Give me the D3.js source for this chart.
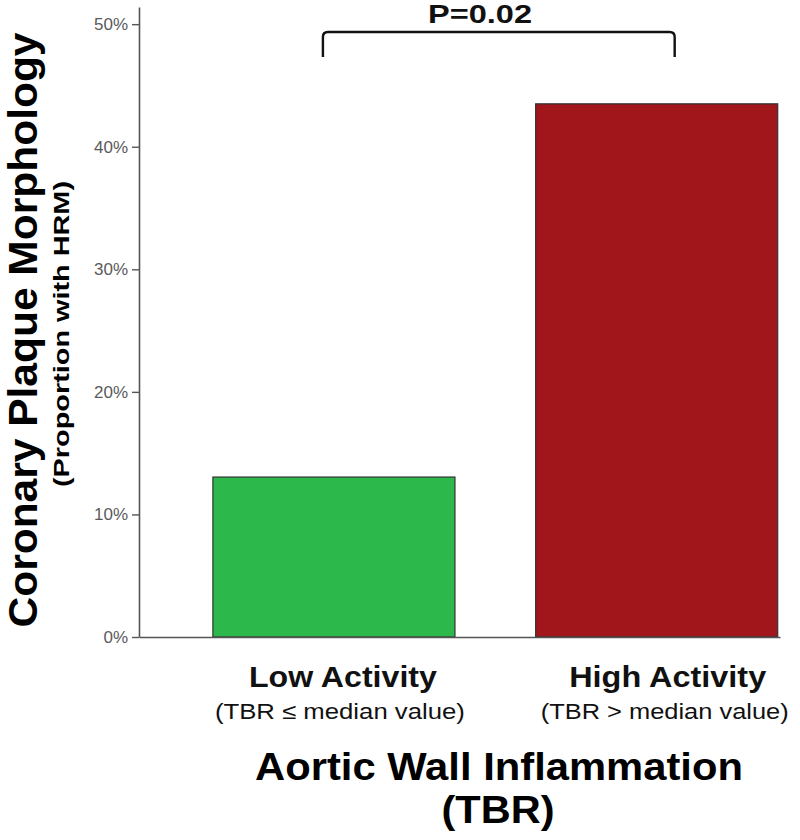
<!DOCTYPE html>
<html>
<head>
<meta charset="utf-8">
<script src="https://cdn.jsdelivr.net/npm/d3@7"></script>
<style>
  body { margin: 0; background: #fff; }
  text { font-family: "Liberation Sans", Arial, sans-serif; }
</style>
</head>
<body>
<svg id="chart" width="800" height="840"></svg>
<script>
const categories = ['Low Activity', 'High Activity'];
const subLabels = ['(TBR \u2264 median value)', '(TBR > median value)'];
const values = [0.1305, 0.435];
const barColors = ['#2db84b', '#a0161b'];
const tickValues = [0, 0.1, 0.2, 0.3, 0.4, 0.5];
const pLabel = 'P=0.02';

const width = 800;
const height = 840;
const margin = { top: 7, right: 20, bottom: 203, left: 139 };

const svg = d3.select('#chart');

const x = d3.scaleBand()
  .domain(categories)
  .range([margin.left, width - margin.right])
  .paddingInner(0.25)
  .paddingOuter(0.118)
  .align(0.97);

const y = d3.scaleLinear()
  .domain([0, 0.514])
  .range([height - margin.bottom, margin.top]);

// bars
svg.selectAll('.bar')
  .data(values)
  .enter().append('rect')
  .attr('class', 'bar')
  .attr('x', (d, i) => x(categories[i]))
  .attr('y', d => y(d))
  .attr('width', x.bandwidth())
  .attr('height', d => y(0) - y(d))
  .attr('fill', (d, i) => barColors[i])
  .attr('stroke', '#333')
  .attr('stroke-width', 1.2);

// y axis
const yAxis = svg.append('g')
  .attr('transform', `translate(${margin.left},0)`)
  .call(d3.axisLeft(y)
    .tickValues(tickValues)
    .tickFormat(d3.format('.0%'))
    .tickSize(7)
    .tickSizeOuter(0)
    .tickPadding(4));
yAxis.select('.domain').attr('stroke', '#555').attr('stroke-width', 1.6);
yAxis.selectAll('.tick line').attr('stroke', '#555').attr('stroke-width', 1.4);
yAxis.selectAll('.tick text')
  .attr('fill', '#5a5a5a')
  .style('font-size', '17px');

// x axis baseline
const xAxis = svg.append('g')
  .attr('transform', `translate(0,${y(0)})`)
  .call(d3.axisBottom(x).tickSize(0).tickSizeOuter(0).tickFormat(''));
xAxis.select('.domain').attr('stroke', '#555').attr('stroke-width', 1.6);

// category labels
const labelOffset = [9, 11];
const labelWidths = [188, 197];
const subWidths = [250, 248];
categories.forEach((c, i) => {
  const cx = x(c) + x.bandwidth() / 2 + labelOffset[i];
  svg.append('text')
    .attr('x', cx)
    .attr('y', 687)
    .attr('text-anchor', 'middle')
    .attr('textLength', labelWidths[i])
    .attr('lengthAdjust', 'spacingAndGlyphs')
    .style('font-size', '29px')
    .style('font-weight', 'bold')
    .attr('fill', '#111')
    .text(c);
  svg.append('text')
    .attr('x', cx - 3)
    .attr('y', 719)
    .attr('text-anchor', 'middle')
    .attr('textLength', subWidths[i])
    .attr('lengthAdjust', 'spacingAndGlyphs')
    .style('font-size', '22px')
    .attr('fill', '#111')
    .text(subLabels[i]);
});

// x title
svg.append('text')
  .attr('x', 499)
  .attr('y', 780)
  .attr('text-anchor', 'middle')
  .attr('textLength', 488)
  .attr('lengthAdjust', 'spacingAndGlyphs')
  .style('font-size', '39px')
  .style('font-weight', 'bold')
  .attr('fill', '#000')
  .text('Aortic Wall Inflammation');
svg.append('text')
  .attr('x', 498)
  .attr('y', 823)
  .attr('text-anchor', 'middle')
  .attr('textLength', 113)
  .attr('lengthAdjust', 'spacingAndGlyphs')
  .style('font-size', '39px')
  .style('font-weight', 'bold')
  .attr('fill', '#000')
  .text('(TBR)');

// y title
svg.append('text')
  .attr('transform', 'translate(37,330) rotate(-90)')
  .attr('text-anchor', 'middle')
  .attr('textLength', 595)
  .attr('lengthAdjust', 'spacingAndGlyphs')
  .style('font-size', '40px')
  .style('font-weight', 'bold')
  .attr('fill', '#000')
  .text('Coronary Plaque Morphology');
svg.append('text')
  .attr('transform', 'translate(69,334) rotate(-90)')
  .attr('text-anchor', 'middle')
  .attr('textLength', 306)
  .attr('lengthAdjust', 'spacingAndGlyphs')
  .style('font-size', '22px')
  .style('font-weight', 'bold')
  .attr('fill', '#000')
  .text('(Proportion with HRM)');

// significance bracket
const bx0 = x(categories[0]) + x.bandwidth() / 2 - 11;
const bx1 = x(categories[1]) + x.bandwidth() / 2 + 18;
const by = 32;
const bBottom = 57;
const r = 5;
svg.append('path')
  .attr('d', `M${bx0},${bBottom} L${bx0},${by + r} Q${bx0},${by} ${bx0 + r},${by} L${bx1 - r},${by} Q${bx1},${by} ${bx1},${by + r} L${bx1},${bBottom}`)
  .attr('fill', 'none')
  .attr('stroke', '#111')
  .attr('stroke-width', 2.4);

svg.append('text')
  .attr('x', 480)
  .attr('y', 23)
  .attr('text-anchor', 'middle')
  .attr('textLength', 104)
  .attr('lengthAdjust', 'spacingAndGlyphs')
  .style('font-size', '26px')
  .style('font-weight', 'bold')
  .attr('fill', '#111')
  .text(pLabel);
</script>
</body>
</html>
